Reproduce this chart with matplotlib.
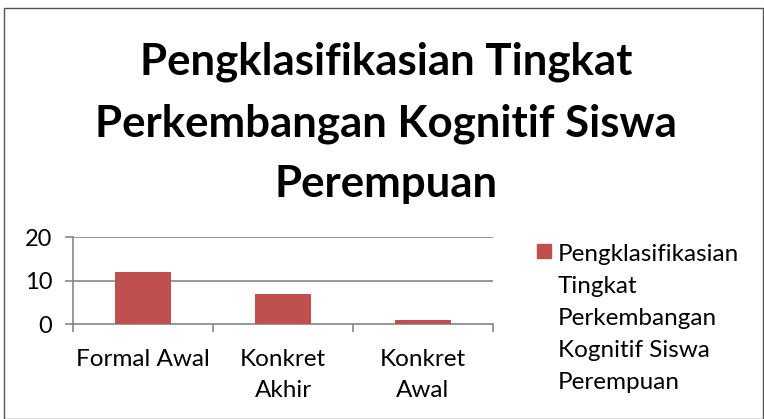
import matplotlib
matplotlib.use("Agg")
import matplotlib.pyplot as plt
from matplotlib.patches import Rectangle

categories = ["Formal Awal", "Konkret\nAkhir", "Konkret\nAwal"]
values = [12, 7, 1]
yticks = [0, 10, 20]
title = "Pengklasifikasian Tingkat\nPerkembangan Kognitif Siswa\nPerempuan"
series_label = "Pengklasifikasian\nTingkat\nPerkembangan\nKognitif Siswa\nPerempuan"
bar_color = "#C0504D"

W, H = 764, 419
plt.rcParams["font.family"] = ["Lato", "DejaVu Sans"]
fig = plt.figure(figsize=(W / 100, H / 100), dpi=100)

# outer chart frame
fig.patches.append(Rectangle((4 / W, 0), (W - 5) / W, (H - 8) / H, transform=fig.transFigure,
                             fill=False, edgecolor="#555555", lw=1.0))

ax = fig.add_axes([73 / W, (H - 324) / H, 420 / W, 87 / H])
x = list(range(len(values)))
ax.bar(x, values, width=0.4, color=bar_color, zorder=3)
ax.set_xlim(-0.5, len(values) - 0.5)
ax.set_ylim(0, 20)
ax.set_yticks(yticks)
ax.set_yticklabels([str(v) for v in yticks], fontsize=17)
for v in yticks[1:]:
    ax.axhline(v, color="#868686", lw=1.2, zorder=1)
for s in ["top", "right"]:
    ax.spines[s].set_visible(False)
for s in ["left", "bottom"]:
    ax.spines[s].set_color("#868686")
    ax.spines[s].set_linewidth(1.2)
ax.tick_params(axis="y", length=6, color="#868686", width=1.2, pad=9)
# category boundary tick marks
ax.set_xticks([-0.5, 0.5, 1.5, 2.5])
ax.set_xticklabels([])
ax.tick_params(axis="x", length=6, color="#868686", width=1.2)
for i, c in enumerate(categories):
    ax.text(i, -0.29, c, transform=ax.get_xaxis_transform(), ha="center", va="top",
            fontsize=17.5, linespacing=1.58)

fig.text(386 / W, 1 - 123 / H, title, ha="center", va="center", fontsize=31.5,
         fontweight="bold", linespacing=1.63)

# legend: square marker + wrapped series name
fig.patches.append(Rectangle((537 / W, 1 - 258 / H), 14 / W, 14 / H, transform=fig.transFigure,
                             color=bar_color))
fig.text(558 / W, 1 - 244 / H, series_label, ha="left", va="top", fontsize=17.5,
         linespacing=1.65)

fig.savefig("out.png", dpi=100)
